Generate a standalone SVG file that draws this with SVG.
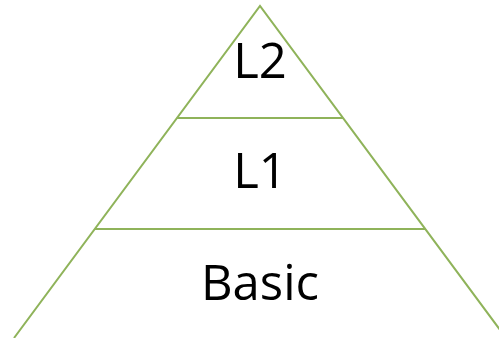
<svg xmlns="http://www.w3.org/2000/svg" width="499" height="338" viewBox="0 0 499 338">
<style>
.edge{stroke:#8fb35a;stroke-width:2;fill:none;stroke-linecap:butt}
.lbl{font-family:"Open Sans","Liberation Sans",sans-serif;font-size:49px;fill:#000;text-anchor:middle}
</style>
<rect width="499" height="338" fill="#fff"/>
<g id="connectors">
<polyline class="edge" points="14,338 260,6 506,338"/>
<line class="edge" x1="177" y1="118" x2="343" y2="118"/>
<line class="edge" x1="95" y1="229" x2="425" y2="229"/>
</g>
<g id="node-l2"><text class="lbl" x="260" y="78">L2</text></g>
<g id="node-l1"><text class="lbl" x="260" y="188">L1</text></g>
<g id="node-basic"><text class="lbl" x="260" y="300">Basic</text></g>
</svg>
